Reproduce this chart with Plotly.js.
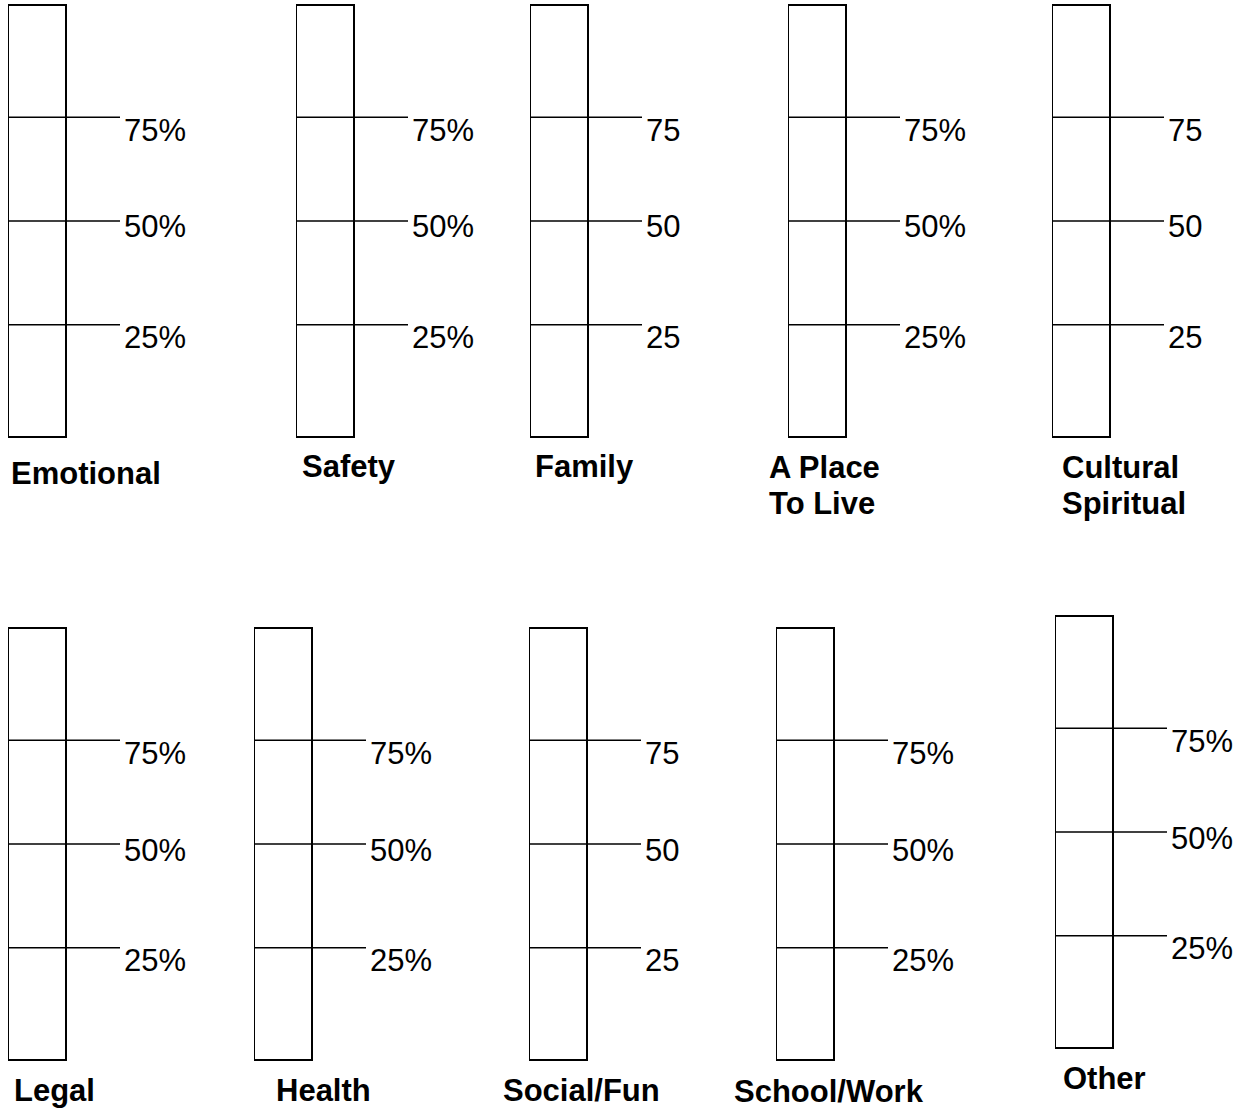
<!DOCTYPE html>
<html>
<head>
<meta charset="utf-8">
<script src="https://cdn.plot.ly/plotly-3.0.1.min.js"></script>
<style>
  html, body { margin: 0; padding: 0; background: #ffffff; }
  #chart { width: 1256px; height: 1110px; }
</style>
</head>
<body>
<div id="chart"></div>
<script>
// ---- Data ----
const categories = ['Emotional', 'Safety', 'Family', 'A Place<br>To Live', 'Cultural<br>Spiritual',
                    'Legal', 'Health', 'Social/Fun', 'School/Work', 'Other'];
const tickLevels = [25, 50, 75];
const tickLabelsPct = ['25%', '50%', '75%'];
const tickLabelsPlain = ['25', '50', '75'];
const usesPercent = [true, true, false, true, false, true, true, false, true, true];
const scaleRange = [-2, 102];

// ---- Layout (pixel placement of each gauge, style only) ----
const W = 1256, H = 1110;
const boxW = 58, lineExt = 112;
const boxLeft = [8, 296, 530, 788, 1052, 8, 254, 529, 776, 1055];
const boxTop = [5, 5, 5, 5, 5, 628, 628, 628, 628, 616];
const boxH = 432;
const labelLeft = [9, 300, 533, 767, 1060, 12, 274, 501, 732, 1061];
const labelY = [473, 466, 466, 467, 467, 1090, 1090, 1090, 1091, 1078];
const lineGap = 36;
const tickLabelShift = [-13, -6, -13];

const FONT = '"Liberation Sans", Arial, Helvetica, sans-serif';
const traces = [];
const layout = {
  width: W, height: H,
  margin: {l: 0, r: 0, t: 0, b: 0},
  paper_bgcolor: '#ffffff', plot_bgcolor: 'rgba(0,0,0,0)',
  showlegend: false,
  shapes: [], annotations: [],
  font: {family: FONT, color: '#000000'}
};

const xEnd = lineExt / boxW;
categories.forEach((cat, i) => {
  const n = i + 1;
  const xa = n === 1 ? 'x' : 'x' + n;
  const ya = n === 1 ? 'y' : 'y' + n;
  const l = boxLeft[i], t = boxTop[i];
  layout[n === 1 ? 'xaxis' : 'xaxis' + n] = {
    domain: [l / W, (l + lineExt) / W], range: [0, xEnd],
    visible: false, fixedrange: true
  };
  layout[n === 1 ? 'yaxis' : 'yaxis' + n] = {
    domain: [(H - t - boxH) / H, (H - t) / H], range: scaleRange,
    visible: false, fixedrange: true
  };
  // gauge frame
  layout.shapes.push({
    type: 'rect', xref: xa, yref: ya + ' domain',
    x0: 0, x1: 1, y0: 0, y1: 1,
    line: {color: '#000000', width: 2}, fillcolor: 'rgba(0,0,0,0)'
  });
  // tick lines
  const xs = [], ys = [];
  tickLevels.forEach(v => { xs.push(0, xEnd, null); ys.push(v, v, null); });
  traces.push({
    type: 'scatter', mode: 'lines', x: xs, y: ys, xaxis: xa, yaxis: ya,
    line: {color: '#000000', width: 1.5}, hoverinfo: 'skip'
  });
  // tick labels
  const labs = usesPercent[i] ? tickLabelsPct : tickLabelsPlain;
  tickLevels.forEach((v, k) => {
    layout.annotations.push({
      xref: xa, yref: ya, x: xEnd, y: v, text: labs[k],
      xanchor: 'left', yanchor: 'middle', xshift: 2, yshift: tickLabelShift[k],
      showarrow: false, font: {family: FONT, size: 31, color: '#000000'}
    });
  });
  // category label (one annotation per text line)
  cat.split('<br>').forEach((line, k) => {
    layout.annotations.push({
      xref: 'paper', yref: 'paper', x: labelLeft[i] / W,
      y: (H - labelY[i] - k * lineGap) / H,
      text: line, xanchor: 'left', yanchor: 'middle', align: 'left',
      showarrow: false, font: {family: FONT, size: 31, color: '#000000', weight: 'bold'}
    });
  });
});

Plotly.newPlot('chart', traces, layout, {displayModeBar: false, staticPlot: true});
</script>
</body>
</html>
